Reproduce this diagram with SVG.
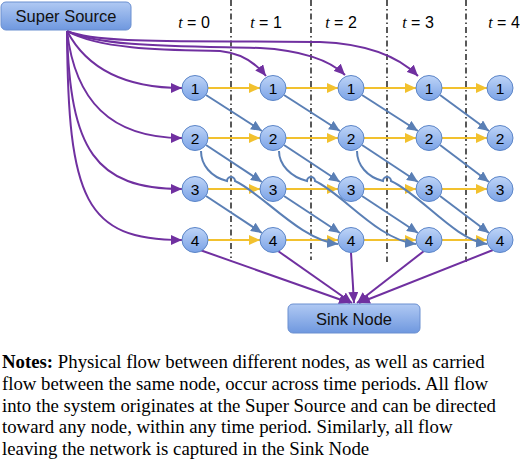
<svg xmlns="http://www.w3.org/2000/svg" width="520" height="468" viewBox="0 0 520 468">
<style>
.p{fill:none;stroke:#7030a0;stroke-width:2}
.y{fill:none;stroke:#f2c12e;stroke-width:2}
.b{fill:none;stroke:#5a7fb5;stroke-width:2}
.d{stroke:#000;stroke-width:1.3;stroke-dasharray:6,3,1.5,3}
.n ellipse{fill:url(#ng);stroke:#5b85c8;stroke-width:1}
.n text{font-family:"Liberation Sans",Arial,sans-serif;font-size:15.5px;text-anchor:middle;fill:#000}
.box rect{fill:url(#bg);stroke:#6a8fd0;stroke-width:1}
.box text{font-family:"Liberation Sans",Arial,sans-serif;font-size:16.5px;text-anchor:middle;fill:#111}
.t{font-family:"Liberation Sans",Arial,sans-serif;font-size:16px;text-anchor:middle;fill:#000}
.t tspan{font-family:"Liberation Serif",serif;font-style:italic}
.note{font-family:"Liberation Serif","Times New Roman",serif;font-size:18.8px;fill:#000}
</style>
<defs>
<linearGradient id="ng" x1="0" y1="0" x2="0" y2="1"><stop offset="0" stop-color="#bed4f7"/><stop offset="1" stop-color="#7aa2e6"/></linearGradient>
<linearGradient id="bg" x1="0" y1="0" x2="0" y2="1"><stop offset="0" stop-color="#b0c9f3"/><stop offset="1" stop-color="#6f98df"/></linearGradient>
<marker id="ap" markerUnits="userSpaceOnUse" markerWidth="12" markerHeight="10" refX="11" refY="5" orient="auto"><path d="M0,0 L11,5 L0,10 z" fill="#7030a0"/></marker>
<marker id="ay" markerUnits="userSpaceOnUse" markerWidth="12" markerHeight="10" refX="11" refY="5" orient="auto"><path d="M0,0 L11,5 L0,10 z" fill="#f2c12e"/></marker>
<marker id="ab" markerUnits="userSpaceOnUse" markerWidth="12" markerHeight="10" refX="11" refY="5" orient="auto"><path d="M0,0 L11,5 L0,10 z" fill="#5a7fb5"/></marker>
</defs>

<g id="time-dividers">
<line class="d" x1="231" y1="0" x2="231" y2="258"/>
<line class="d" x1="311" y1="0" x2="311" y2="260"/>
<line class="d" x1="387" y1="0" x2="387" y2="262"/>
<line class="d" x1="466" y1="0" x2="466" y2="262"/>
</g>
<g id="time-labels">
<text class="t" x="194" y="28"><tspan>t</tspan> = 0</text>
<text class="t" x="266" y="28"><tspan>t</tspan> = 1</text>
<text class="t" x="341" y="28"><tspan>t</tspan> = 2</text>
<text class="t" x="418" y="28"><tspan>t</tspan> = 3</text>
<text class="t" x="504" y="28"><tspan>t</tspan> = 4</text>
</g>

<g id="connectors">
<!-- super source -->
<path class="p" marker-end="url(#ap)" d="M67,31 C100,45 200,40 320,42 C370,44 400,58 418,76"/>
<path class="p" marker-end="url(#ap)" d="M67,31 C100,47 180,46 260,48 C300,50 330,60 345,75"/>
<path class="p" marker-end="url(#ap)" d="M67,31 C100,50 170,50 220,51 C240,53 255,62 266,76"/>
<path class="p" marker-end="url(#ap)" d="M67,31 C85,65 120,88 182,88"/>
<path class="p" marker-end="url(#ap)" d="M67,31 C75,100 110,138 182,138"/>
<path class="p" marker-end="url(#ap)" d="M67,31 C70,150 95,189 182,189"/>
<path class="p" marker-end="url(#ap)" d="M67,31 C68,200 85,240 182,240"/>
<!-- sink -->
<path class="p" marker-end="url(#ap)" d="M200,250 L350,303"/>
<path class="p" marker-end="url(#ap)" d="M278,251 L352,303"/>
<path class="p" marker-end="url(#ap)" d="M351,253 L354,303"/>
<path class="p" marker-end="url(#ap)" d="M424,251 L357,303"/>
<path class="p" marker-end="url(#ap)" d="M493,250 L359,303"/>
<!-- carry (yellow) -->
<path class="y" marker-end="url(#ay)" d="M208,88 H260"/>
<path class="y" marker-end="url(#ay)" d="M286,88 H338"/>
<path class="y" marker-end="url(#ay)" d="M364,88 H416"/>
<path class="y" marker-end="url(#ay)" d="M442,88 H487"/>
<path class="y" marker-end="url(#ay)" d="M208,138 H260"/>
<path class="y" marker-end="url(#ay)" d="M286,138 H338"/>
<path class="y" marker-end="url(#ay)" d="M364,138 H416"/>
<path class="y" marker-end="url(#ay)" d="M442,138 H487"/>
<path class="y" marker-end="url(#ay)" d="M208,189 H260"/>
<path class="y" marker-end="url(#ay)" d="M286,189 H338"/>
<path class="y" marker-end="url(#ay)" d="M364,189 H416"/>
<path class="y" marker-end="url(#ay)" d="M442,189 H487"/>
<path class="y" marker-end="url(#ay)" d="M208,240 H260"/>
<path class="y" marker-end="url(#ay)" d="M286,240 H338"/>
<path class="y" marker-end="url(#ay)" d="M364,240 H416"/>
<path class="y" marker-end="url(#ay)" d="M442,240 H487"/>
<!-- physical (blue) -->
<path class="b" marker-end="url(#ab)" d="M206,95 L262,131"/>
<path class="b" marker-end="url(#ab)" d="M284,95 L340,131"/>
<path class="b" marker-end="url(#ab)" d="M362,95 L418,131"/>
<path class="b" marker-end="url(#ab)" d="M440,95 L489,131"/>
<path class="b" marker-end="url(#ab)" d="M206,145 L262,182"/>
<path class="b" marker-end="url(#ab)" d="M284,145 L340,182"/>
<path class="b" marker-end="url(#ab)" d="M362,145 L418,182"/>
<path class="b" marker-end="url(#ab)" d="M440,145 L489,182"/>
<path class="b" marker-end="url(#ab)" d="M206,196 L262,233"/>
<path class="b" marker-end="url(#ab)" d="M284,196 L340,233"/>
<path class="b" marker-end="url(#ab)" d="M362,196 L418,233"/>
<path class="b" marker-end="url(#ab)" d="M440,196 L489,233"/>
<path class="b" marker-end="url(#ab)" d="M201,151 C201,165 211,177 227,181 a4,4 0 0 1 8,0 C262,193 300,240 338,244"/>
<path class="b" marker-end="url(#ab)" d="M279,151 C279,165 291,177 307,181 a4,4 0 0 1 8,0 C342,193 378,240 416,244"/>
<path class="b" marker-end="url(#ab)" d="M357,151 C357,165 367,177 383,181 a4,4 0 0 1 8,0 C420,194 455,240 487,244"/>
</g>

<g id="super-source" class="box"><rect x="1" y="2" width="130" height="28" rx="5"/><text x="66" y="22">Super Source</text></g>
<g id="sink-node" class="box"><rect x="288" y="304" width="132" height="29" rx="5"/><text x="354" y="325">Sink Node</text></g>

<g id="n1t0" class="n"><ellipse cx="195" cy="88" rx="13" ry="12.5"/><text x="195" y="93.5">1</text></g>
<g id="n1t1" class="n"><ellipse cx="273" cy="88" rx="13" ry="12.5"/><text x="273" y="93.5">1</text></g>
<g id="n1t2" class="n"><ellipse cx="351" cy="88" rx="13" ry="12.5"/><text x="351" y="93.5">1</text></g>
<g id="n1t3" class="n"><ellipse cx="429" cy="88" rx="13" ry="12.5"/><text x="429" y="93.5">1</text></g>
<g id="n1t4" class="n"><ellipse cx="500" cy="88" rx="13" ry="12.5"/><text x="500" y="93.5">1</text></g>
<g id="n2t0" class="n"><ellipse cx="195" cy="138" rx="13" ry="12.5"/><text x="195" y="143.5">2</text></g>
<g id="n2t1" class="n"><ellipse cx="273" cy="138" rx="13" ry="12.5"/><text x="273" y="143.5">2</text></g>
<g id="n2t2" class="n"><ellipse cx="351" cy="138" rx="13" ry="12.5"/><text x="351" y="143.5">2</text></g>
<g id="n2t3" class="n"><ellipse cx="429" cy="138" rx="13" ry="12.5"/><text x="429" y="143.5">2</text></g>
<g id="n2t4" class="n"><ellipse cx="500" cy="138" rx="13" ry="12.5"/><text x="500" y="143.5">2</text></g>
<g id="n3t0" class="n"><ellipse cx="195" cy="189" rx="13" ry="12.5"/><text x="195" y="194.5">3</text></g>
<g id="n3t1" class="n"><ellipse cx="273" cy="189" rx="13" ry="12.5"/><text x="273" y="194.5">3</text></g>
<g id="n3t2" class="n"><ellipse cx="351" cy="189" rx="13" ry="12.5"/><text x="351" y="194.5">3</text></g>
<g id="n3t3" class="n"><ellipse cx="429" cy="189" rx="13" ry="12.5"/><text x="429" y="194.5">3</text></g>
<g id="n3t4" class="n"><ellipse cx="500" cy="189" rx="13" ry="12.5"/><text x="500" y="194.5">3</text></g>
<g id="n4t0" class="n"><ellipse cx="195" cy="240" rx="13" ry="12.5"/><text x="195" y="245.5">4</text></g>
<g id="n4t1" class="n"><ellipse cx="273" cy="240" rx="13" ry="12.5"/><text x="273" y="245.5">4</text></g>
<g id="n4t2" class="n"><ellipse cx="351" cy="240" rx="13" ry="12.5"/><text x="351" y="245.5">4</text></g>
<g id="n4t3" class="n"><ellipse cx="429" cy="240" rx="13" ry="12.5"/><text x="429" y="245.5">4</text></g>
<g id="n4t4" class="n"><ellipse cx="500" cy="240" rx="13" ry="12.5"/><text x="500" y="245.5">4</text></g>

<g id="notes" class="note">
<text x="2" y="368"><tspan font-weight="bold">Notes:</tspan> Physical flow between different nodes, as well as carried</text>
<text x="2" y="390">flow between the same node, occur across time periods. All flow</text>
<text x="2" y="411.5">into the system originates at the Super Source and can be directed</text>
<text x="2" y="433">toward any node, within any time period. Similarly, all flow</text>
<text x="2" y="455">leaving the network is captured in the Sink Node</text>
</g>
</svg>
